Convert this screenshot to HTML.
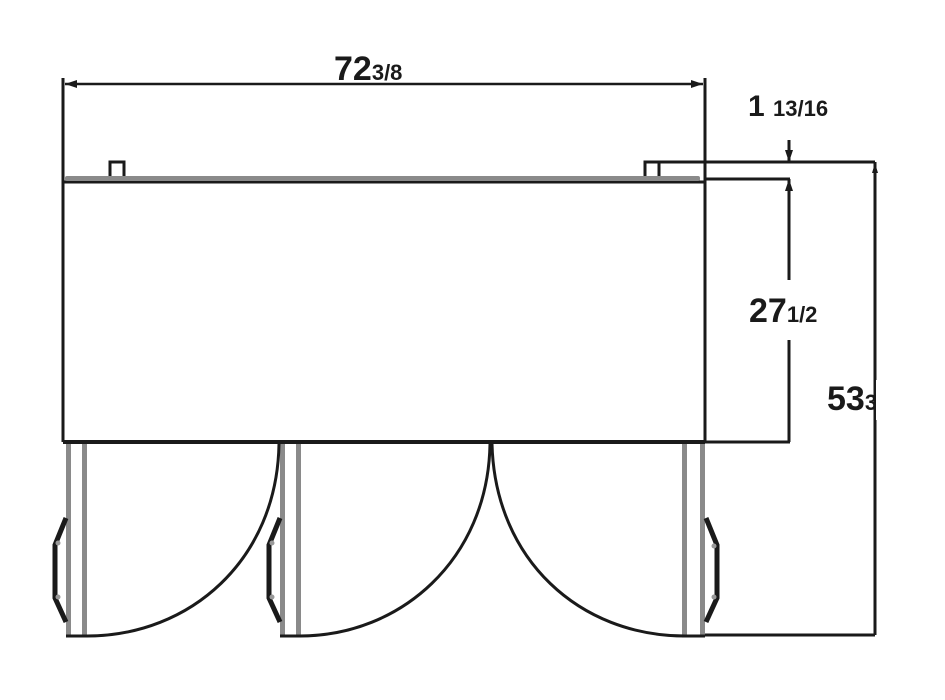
<!DOCTYPE html>
<html><head><meta charset="utf-8"><style>
html,body{margin:0;padding:0;background:#fff}
svg{display:block}
text{font-family:"Liberation Sans",sans-serif;font-weight:bold;fill:#1a1a1a}
</style></head><body>
<svg width="945" height="700" viewBox="0 0 945 700" xmlns="http://www.w3.org/2000/svg">
<g stroke="#1a1a1a" stroke-width="3" fill="none">
<line x1="63" y1="78" x2="63" y2="442"/>
<line x1="705" y1="78" x2="705" y2="442"/>
<line x1="65" y1="84" x2="703" y2="84" stroke-width="2.5"/>
<line x1="63" y1="182" x2="705" y2="182"/>
<line x1="63" y1="442" x2="705" y2="442" stroke-width="4"/>
<line x1="660" y1="162" x2="875" y2="162"/>
<line x1="705" y1="179" x2="790" y2="179"/>
<line x1="789" y1="140" x2="789" y2="162"/>
<line x1="789" y1="179" x2="789" y2="280"/>
<line x1="789" y1="340" x2="789" y2="442"/>
<line x1="705" y1="442" x2="790" y2="442"/>
<line x1="875" y1="162" x2="875" y2="635"/>
<line x1="705" y1="635" x2="875" y2="635"/>
</g>
<path d="M65,84 l12,-4 v8 z M703,84 l-12,-4 v8 z" fill="#1a1a1a"/>
<path d="M789,162 l-4,-12 h8 z M789,179 l-4,12 h8 z M875,163 l-3,10 h6 z" fill="#1a1a1a"/>
<rect x="65" y="176" width="635" height="5" fill="#8a8a8a" rx="2"/>
<path d="M110,176 v-14 h14 v14" stroke="#1a1a1a" stroke-width="3" fill="none"/>
<path d="M645,176 v-14 h14 v14" stroke="#1a1a1a" stroke-width="3" fill="none"/>
<g fill="#8a8a8a">
<rect x="66" y="444" width="5" height="192"/><rect x="82" y="444" width="5" height="192"/>
<rect x="280" y="444" width="5" height="192"/><rect x="296" y="444" width="5" height="192"/>
<rect x="682" y="444" width="5" height="192"/><rect x="700" y="444" width="5" height="192"/>
</g>
<g stroke="#1a1a1a" stroke-width="3" fill="none">
<path d="M279,444 C277,560 190,636 87,636"/>
<path d="M490,444 C488,560 400,636 300,636"/>
<path d="M492,444 C495,560 580,636 685,636"/>
<line x1="66" y1="636" x2="87" y2="636"/><line x1="280" y1="636" x2="300" y2="636"/><line x1="682" y1="636" x2="705" y2="636"/>
</g>
<g stroke="#1a1a1a" stroke-width="5" fill="none">
<path d="M66,518 L55,545 L55,598 L66,622"/>
<path d="M280,518 L269,545 L269,598 L280,622"/>
<path d="M706,518 L717,545 L717,598 L706,622"/>
</g>
<g fill="#999">
<circle cx="58" cy="543" r="2.5"/><circle cx="58" cy="597" r="2.5"/>
<circle cx="272" cy="543" r="2.5"/><circle cx="272" cy="597" r="2.5"/>
<circle cx="714" cy="546" r="2.5"/><circle cx="714" cy="597" r="2.5"/>
</g>
<text x="334" y="80" font-size="34">72<tspan font-size="22">3/8</tspan></text>
<text x="748" y="116" font-size="30">1 <tspan font-size="22">13/16</tspan></text>
<text x="749" y="322" font-size="34">27<tspan font-size="22">1/2</tspan></text>
<text x="827" y="410" font-size="34">53<tspan font-size="22">3</tspan></text>
<rect x="876" y="380" width="69" height="40" fill="#fff"/>
</svg>
</body></html>
